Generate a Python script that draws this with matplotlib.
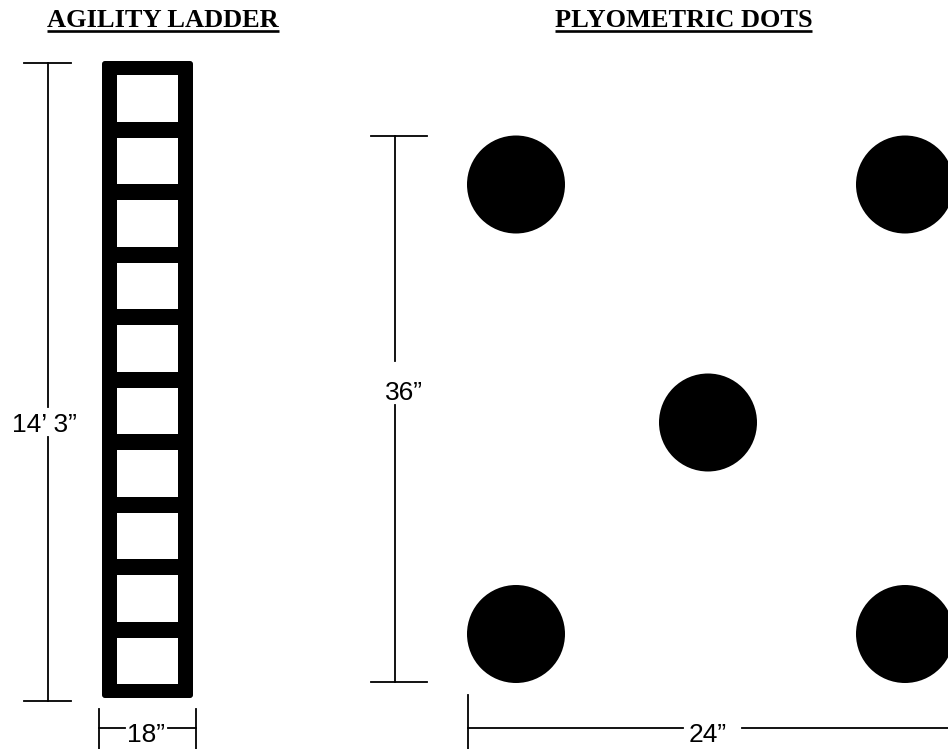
import matplotlib
matplotlib.use("Agg")
import matplotlib.pyplot as plt
from matplotlib.patches import Circle, Rectangle, FancyBboxPatch

# diagram values (pixel-like units of the drawing, y grows downwards)
titles = ["AGILITY LADDER", "PLYOMETRIC DOTS"]
title_x = [163, 683.5]
ladder_cells = 10
dot_x = [516, 905, 708, 516, 905]
dot_y = [184.5, 184.5, 422.5, 634, 634]
dot_radius = 49
dim_labels = ["14\u2019 3\u201d", "18\u201d", "36\u201d", "24\u201d"]

fig = plt.figure(figsize=(9.48, 7.49), dpi=100)
ax = fig.add_axes([0, 0, 1, 1])
ax.set_xlim(0, 948)
ax.set_ylim(749, 0)
ax.axis("off")

sans = ["Liberation Sans", "DejaVu Sans"]
serif = ["Liberation Serif", "DejaVu Serif"]
lw_dim = 1.3

# 1. titles with underline
title_texts = []
for name, x in zip(titles, title_x):
    t = ax.text(x, 27, name, ha="center", va="baseline", fontsize=19,
                fontweight="bold", family=serif)
    title_texts.append(t)

fig.canvas.draw()
inv = ax.transData.inverted()
for t in title_texts:
    bb = t.get_window_extent()
    (x0, _), (x1, _) = inv.transform([[bb.x0, bb.y0], [bb.x1, bb.y1]])
    ax.plot([x0, x1], [30.7, 30.7], color="black", lw=1.9, solid_capstyle="butt")

# 2. agility ladder
lad_left, lad_top, lad_w, lad_h = 102, 61, 91, 637
ax.add_patch(FancyBboxPatch((lad_left, lad_top), lad_w, lad_h,
                            boxstyle="round,pad=0,rounding_size=3",
                            fc="black", ec="none"))
rail = 15
top_bar = 14
bottom_bar = 14
inner_h = 46.5
pitch = (lad_h - top_bar - bottom_bar - inner_h) / (ladder_cells - 1)
for i in range(ladder_cells):
    ax.add_patch(Rectangle((lad_left + rail, lad_top + top_bar + i * pitch),
                           lad_w - 2 * rail, inner_h, fc="white", ec="none"))

# ladder length dimension
vx, vtop, vbot = 48, 63, 701
ax.plot([vx, vx], [vtop, 407], color="black", lw=lw_dim)
ax.plot([vx, vx], [437, vbot], color="black", lw=lw_dim)
for y in (vtop, vbot):
    ax.plot([24, 71], [y, y], color="black", lw=lw_dim)
ax.text(44, 432, dim_labels[0], ha="center", va="baseline", fontsize=19, family=sans)

# ladder width dimension
for x in (99, 196):
    ax.plot([x, x], [709, 752], color="black", lw=lw_dim)
ax.plot([99, 125], [728, 728], color="black", lw=lw_dim)
ax.plot([168, 196], [728, 728], color="black", lw=lw_dim)
ax.text(146, 742.5, dim_labels[1], ha="center", va="baseline", fontsize=19, family=sans)

# 3. plyometric dots
for x, y in zip(dot_x, dot_y):
    ax.add_patch(Circle((x, y), dot_radius, fc="black", ec="none"))

# dots height dimension
dx = 395
dtop = min(dot_y) - dot_radius
dbot = max(dot_y) - dot_radius + 2 * dot_radius - 1
ax.plot([dx, dx], [dtop, 361], color="black", lw=lw_dim)
ax.plot([dx, dx], [405, dbot], color="black", lw=lw_dim)
for y in (dtop, dbot):
    ax.plot([371, 427], [y, y], color="black", lw=lw_dim)
ax.text(403.5, 400, dim_labels[2], ha="center", va="baseline", fontsize=19, family=sans)

# dots width dimension
wx = min(dot_x) - dot_radius + 1
ax.plot([wx, wx], [695, 752], color="black", lw=lw_dim)
ax.plot([wx, 683], [728, 728], color="black", lw=lw_dim)
ax.plot([742, 960], [728, 728], color="black", lw=lw_dim)
ax.text(707.5, 742, dim_labels[3], ha="center", va="baseline", fontsize=19, family=sans)

fig.savefig("out.png", dpi=100, facecolor="white")
